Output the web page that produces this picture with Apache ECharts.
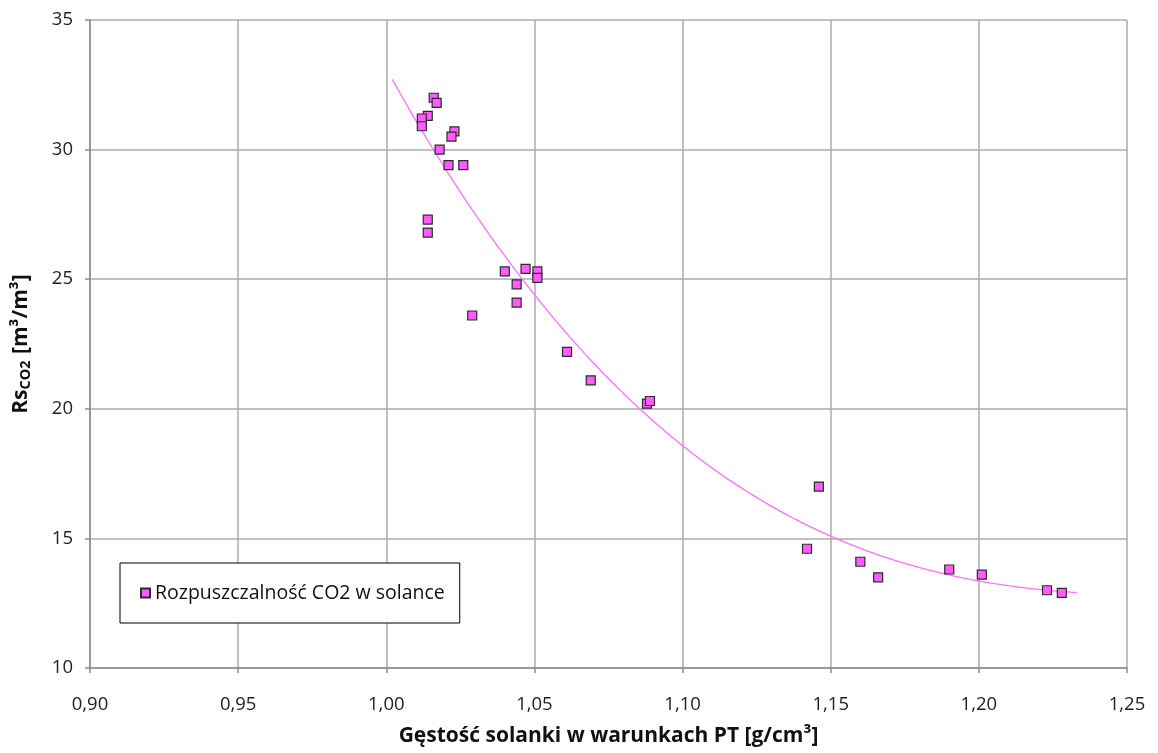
<!DOCTYPE html>
<html>
<head>
<meta charset="utf-8">
<script src="https://cdn.jsdelivr.net/npm/echarts@6/dist/echarts.min.js"></script>
<style>
  html, body { margin: 0; padding: 0; background: #ffffff; }
  #chart { width: 1158px; height: 753px; }
</style>
</head>
<body>
<div id="chart"></div>
<script>
// Brine density under P-T conditions [g/cm3]
const density = [
  1.016, 1.017, 1.014, 1.012, 1.012, 1.018, 1.023, 1.022, 1.021, 1.026,
  1.014, 1.014, 1.040, 1.047, 1.051, 1.051, 1.044, 1.044, 1.029,
  1.061, 1.069, 1.088, 1.089,
  1.146, 1.142, 1.160, 1.166, 1.190, 1.201, 1.223, 1.228
];
// CO2 solubility in brine Rs [m3/m3]
const solubility = [
  32.0, 31.8, 31.3, 31.2, 30.9, 30.0, 30.7, 30.5, 29.4, 29.4,
  27.3, 26.8, 25.3, 25.4, 25.3, 25.05, 24.8, 24.1, 23.6,
  22.2, 21.1, 20.2, 20.3,
  17.0, 14.6, 14.1, 13.5, 13.8, 13.6, 13.0, 12.9
];
const seriesName = 'Rozpuszczalność CO2 w solance';

// Polynomial trend line settings
const trendOrder = 3;
const trendFrom = 1.002;
const trendTo = 1.233;
const trendSteps = 120;

// Least-squares polynomial fit (x centred for numerical stability)
function polyFit(xs, ys, order) {
  const mx = xs.reduce((a, b) => a + b, 0) / xs.length;
  const n = order + 1;
  const A = Array.from({ length: n }, () => new Array(n + 1).fill(0));
  xs.forEach((x0, k) => {
    const x = x0 - mx;
    for (let i = 0; i < n; i++) {
      for (let j = 0; j < n; j++) A[i][j] += Math.pow(x, i + j);
      A[i][n] += ys[k] * Math.pow(x, i);
    }
  });
  for (let c = 0; c < n; c++) {
    let p = c;
    for (let r = c + 1; r < n; r++) if (Math.abs(A[r][c]) > Math.abs(A[p][c])) p = r;
    [A[c], A[p]] = [A[p], A[c]];
    for (let r = 0; r < n; r++) {
      if (r === c) continue;
      const f = A[r][c] / A[c][c];
      for (let k = c; k <= n; k++) A[r][k] -= f * A[c][k];
    }
  }
  const coef = A.map((row, i) => row[n] / row[i]);
  return x => coef.reduce((s, c, i) => s + c * Math.pow(x - mx, i), 0);
}

const trend = polyFit(density, solubility, trendOrder);
const trendData = [];
for (let i = 0; i <= trendSteps; i++) {
  const x = trendFrom + (trendTo - trendFrom) * i / trendSteps;
  trendData.push([x, trend(x)]);
}
const points = density.map((d, i) => [d, solubility[i]]);

const font = '"Open Sans", Lato, sans-serif';
const chart = echarts.init(document.getElementById('chart'), null, { renderer: 'canvas' });

chart.setOption({
  backgroundColor: '#ffffff',
  animation: false,
  grid: { left: 90, right: 31, top: 20, bottom: 85, containLabel: false },
  legend: {
    data: [seriesName],
    left: 120,
    top: 563,
    orient: 'horizontal',
    backgroundColor: '#ffffff',
    borderColor: '#000000',
    borderWidth: 1,
    borderRadius: 0,
    padding: [20, 15, 20, 20],
    itemWidth: 9,
    itemHeight: 9,
    itemGap: 6,
    icon: 'rect',
    textStyle: { fontFamily: font, fontSize: 19.5, color: '#111111' }
  },
  xAxis: {
    type: 'value',
    min: 0.9,
    max: 1.25,
    interval: 0.05,
    name: 'Gęstość solanki w warunkach PT [g/cm³]',
    nameLocation: 'middle',
    nameGap: 58,
    nameTextStyle: { fontFamily: font, fontSize: 21, fontWeight: 'bold', color: '#111111' },
    axisLine: { show: true, onZero: false, lineStyle: { color: '#8c8c8c', width: 1.5 } },
    axisTick: { show: true, inside: false, length: 5, lineStyle: { color: '#8c8c8c', width: 1.5 } },
    axisLabel: {
      margin: 27,
      fontFamily: font,
      fontSize: 18.5,
      color: '#222222',
      formatter: v => v.toFixed(2).replace('.', ',')
    },
    splitLine: { show: true, lineStyle: { color: '#ababab', width: 1.5 } }
  },
  yAxis: {
    type: 'value',
    min: 10,
    max: 35,
    interval: 5,
    name: '{b|Rs}{s|CO2}{b| [m³/m³]}',
    nameLocation: 'middle',
    nameGap: 57,
    nameRotate: 90,
    nameTextStyle: {
      rich: {
        b: { fontFamily: font, fontSize: 21, fontWeight: 'bold', color: '#111111' },
        s: { fontFamily: font, fontSize: 14.5, fontWeight: 'bold', color: '#111111', padding: [8, 1, 0, 0] }
      }
    },
    axisLine: { show: true, onZero: false, lineStyle: { color: '#8c8c8c', width: 1.5 } },
    axisTick: { show: true, inside: false, length: 5, lineStyle: { color: '#8c8c8c', width: 1.5 } },
    axisLabel: { margin: 17, fontFamily: font, fontSize: 18.5, color: '#222222' },
    splitLine: { show: true, lineStyle: { color: '#ababab', width: 1.5 } }
  },
  series: [
    {
      name: 'trend',
      type: 'line',
      data: trendData,
      showSymbol: false,
      smooth: false,
      silent: true,
      lineStyle: { color: '#ff70ff', width: 1.3 },
      z: 2
    },
    {
      name: seriesName,
      type: 'scatter',
      data: points,
      symbol: 'rect',
      symbolSize: 9,
      itemStyle: { color: '#ff5cff', borderColor: '#2b2b2b', borderWidth: 1.2, opacity: 1 },
      z: 3
    }
  ]
});
</script>
</body>
</html>
